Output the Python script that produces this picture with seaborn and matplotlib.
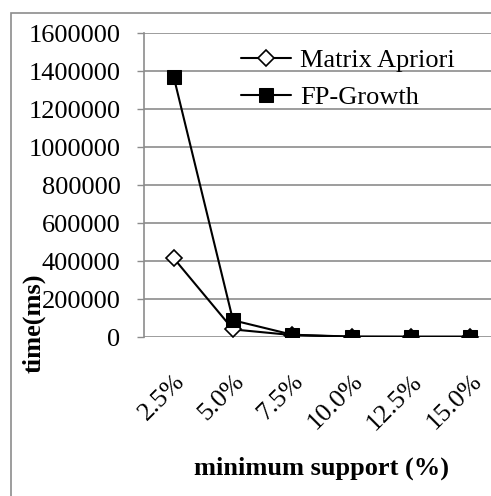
import matplotlib
matplotlib.use("Agg")
import matplotlib.pyplot as plt
from matplotlib.patches import Rectangle
import seaborn as sns
import pandas as pd

support = ["2.5%", "5.0%", "7.5%", "10.0%", "12.5%", "15.0%"]
matrix_apriori = [415000, 40000, 10000, 1500, 1000, 1000]
fp_growth = [1370000, 88000, 12000, 2000, 1500, 1500]
y_ticks = [0, 200000, 400000, 600000, 800000, 1000000, 1200000, 1400000, 1600000]

sns.set_theme(style="white")
plt.rcParams["font.family"] = ["Liberation Serif", "DejaVu Serif"]
plt.rcParams["text.color"] = "black"
plt.rcParams["xtick.color"] = "black"
plt.rcParams["ytick.color"] = "black"
plt.rcParams["axes.labelcolor"] = "black"

FS = 19
W, H = 491, 496
fig = plt.figure(figsize=(W / 100, H / 100), dpi=100)
fig.patch.set_facecolor("white")

# chart frame
fig.patches.append(Rectangle((10.5 / W, -0.1), 1.2, 1 - 12.5 / H + 0.1,
                             transform=fig.transFigure, fill=False,
                             edgecolor="#8c8c8c", linewidth=1.2))

ax = fig.add_axes([144 / W, 1 - 337 / H, 356 / W, 304 / H])

df = pd.DataFrame({"support": support * 2,
                   "time": matrix_apriori + fp_growth,
                   "series": ["Matrix Apriori"] * 6 + ["FP-Growth"] * 6})
df["pos"] = list(range(6)) * 2

sns.lineplot(data=df[df.series == "Matrix Apriori"], x="pos", y="time", ax=ax,
             color="black", linewidth=1.5, marker="D", markersize=8,
             markerfacecolor="white", markeredgecolor="black", markeredgewidth=1.2,
             label="Matrix Apriori", zorder=3)
sns.lineplot(data=df[df.series == "FP-Growth"], x="pos", y="time", ax=ax,
             color="black", linewidth=1.5, marker="s", markersize=9.5,
             markerfacecolor="black", markeredgecolor="black",
             label="FP-Growth", zorder=4)

ax.set_xlim(-0.5, 5.5)
ax.set_ylim(0, 1600000)
ax.set_yticks(y_ticks)
ax.set_yticklabels([str(v) for v in y_ticks], fontsize=FS)
ax.set_xticks(range(6))
ax.set_xticklabels(support, rotation=45, ha="right", rotation_mode="anchor", fontsize=FS)
ax.tick_params(axis="y", length=5, color="#8c8c8c", width=1, pad=12, left=True,
               labelcolor="black")
ax.tick_params(axis="x", length=0, pad=24, labelcolor="black")

ax.grid(axis="y", color="#8c8c8c", linewidth=1.2)
ax.set_axisbelow(True)
for s in ["top", "right", "bottom"]:
    ax.spines[s].set_visible(False)
ax.spines["left"].set_color("#8c8c8c")
ax.spines["left"].set_linewidth(1.2)

ax.set_xlabel("")
ax.set_ylabel("")
fig.text(322 / W, 1 - 468 / H, "minimum support (%)", ha="center", va="center",
         fontsize=FS, fontweight="bold", color="black")
fig.text(34 / W, 1 - 323 / H, "time(ms)", ha="center", va="center",
         rotation=90, fontsize=FS, fontweight="bold", color="black")

leg = ax.legend(loc="upper left", bbox_to_anchor=(241 / W, 1 - 49 / H),
                bbox_transform=fig.transFigure, frameon=False, fontsize=FS,
                handlelength=1.9, handletextpad=0.35, labelspacing=0.5,
                borderpad=0, borderaxespad=0)
for t in leg.get_texts():
    t.set_color("black")

fig.savefig("out.png", dpi=100, facecolor="white")
